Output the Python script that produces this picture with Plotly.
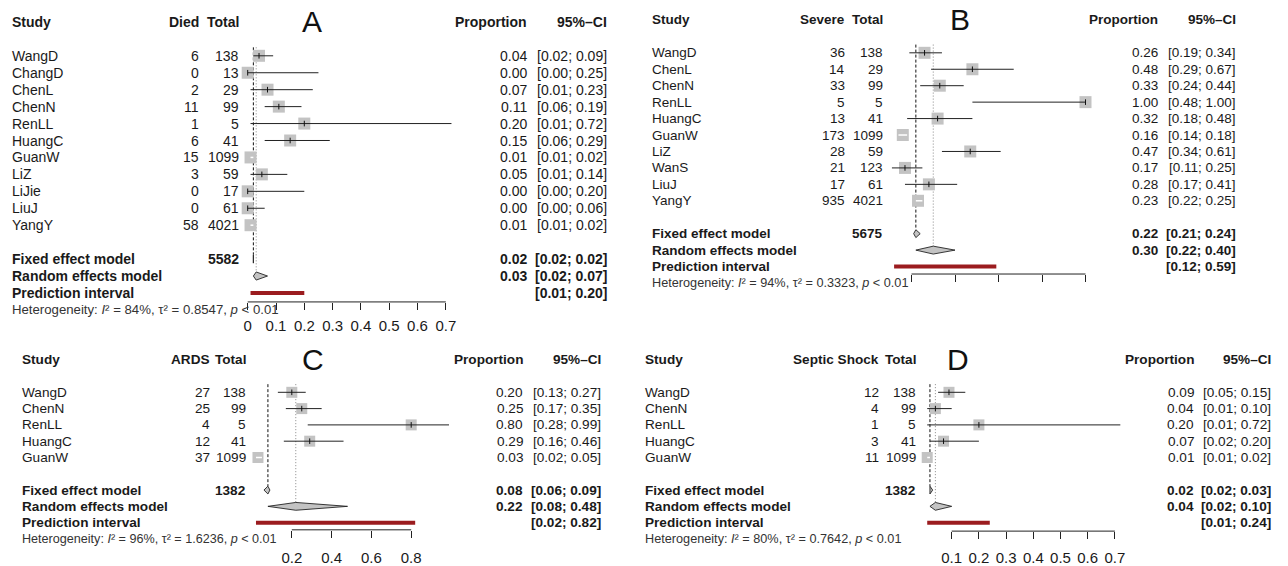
import plotly.graph_objects as go

# ---------------- data ----------------
# A: mortality
A_study = ["WangD", "ChangD", "ChenL", "ChenN", "RenLL", "HuangC", "GuanW", "LiZ", "LiJie", "LiuJ", "YangY"]
A_events = [6, 0, 2, 11, 1, 6, 15, 3, 0, 0, 58]
A_total = [138, 13, 29, 99, 5, 41, 1099, 59, 17, 61, 4021]
A_prop = [0.04, 0.00, 0.07, 0.11, 0.20, 0.15, 0.01, 0.05, 0.00, 0.00, 0.01]
A_lo = [0.02, 0.00, 0.01, 0.06, 0.01, 0.06, 0.01, 0.01, 0.00, 0.00, 0.01]
A_hi = [0.09, 0.25, 0.23, 0.19, 0.72, 0.29, 0.02, 0.14, 0.20, 0.06, 0.02]
A_fixed = [0.02, 0.02, 0.02]
A_random = [0.03, 0.02, 0.07]
A_pred = [0.01, 0.20]
A_n = 5582
A_het = ["84%", "0.8547"]
A_ticks = [0, 0.1, 0.2, 0.3, 0.4, 0.5, 0.6, 0.7]

# B: severe cases
B_study = ["WangD", "ChenL", "ChenN", "RenLL", "HuangC", "GuanW", "LiZ", "WanS", "LiuJ", "YangY"]
B_events = [36, 14, 33, 5, 13, 173, 28, 21, 17, 935]
B_total = [138, 29, 99, 5, 41, 1099, 59, 123, 61, 4021]
B_prop = [0.26, 0.48, 0.33, 1.00, 0.32, 0.16, 0.47, 0.17, 0.28, 0.23]
B_lo = [0.19, 0.29, 0.24, 0.48, 0.18, 0.14, 0.34, 0.11, 0.17, 0.22]
B_hi = [0.34, 0.67, 0.44, 1.00, 0.48, 0.18, 0.61, 0.25, 0.41, 0.25]
B_fixed = [0.22, 0.21, 0.24]
B_random = [0.30, 0.22, 0.40]
B_pred = [0.12, 0.59]
B_n = 5675
B_het = ["94%", "0.3323"]
B_ticks = [0.2, 0.4, 0.6, 0.8, 1.0]

# C: ARDS
C_study = ["WangD", "ChenN", "RenLL", "HuangC", "GuanW"]
C_events = [27, 25, 4, 12, 37]
C_total = [138, 99, 5, 41, 1099]
C_prop = [0.20, 0.25, 0.80, 0.29, 0.03]
C_lo = [0.13, 0.17, 0.28, 0.16, 0.02]
C_hi = [0.27, 0.35, 0.99, 0.46, 0.05]
C_fixed = [0.08, 0.06, 0.09]
C_random = [0.22, 0.08, 0.48]
C_pred = [0.02, 0.82]
C_n = 1382
C_het = ["96%", "1.6236"]
C_ticks = [0.2, 0.4, 0.6, 0.8]

# D: septic shock
D_study = ["WangD", "ChenN", "RenLL", "HuangC", "GuanW"]
D_events = [12, 4, 1, 3, 11]
D_total = [138, 99, 5, 41, 1099]
D_prop = [0.09, 0.04, 0.20, 0.07, 0.01]
D_lo = [0.05, 0.01, 0.01, 0.02, 0.01]
D_hi = [0.15, 0.10, 0.72, 0.20, 0.02]
D_fixed = [0.02, 0.02, 0.03]
D_random = [0.04, 0.02, 0.10]
D_pred = [0.01, 0.24]
D_n = 1382
D_het = ["80%", "0.7642"]
D_ticks = [0.1, 0.2, 0.3, 0.4, 0.5, 0.6, 0.7]

# ---------------- page geometry ----------------
W, H = 1288, 566
FONT = "Liberation Sans, Arial, Helvetica, sans-serif"
TXT = "#1a1a1a"
SQ_COL = "#c3c3c3"
PRED_COL = "#9b1c1f"

fig = go.Figure()
annotations = []
shapes = []
layout_axes = {}


def fx(px):
    return px / W


def fy(py):
    return 1 - py / H


def fmt(v):
    return f"{v:.2f}"


def ci(lo, hi):
    return f"[{lo:.2f}; {hi:.2f}]"


def add_panel(i, letter, evlabel, study, events, total, prop, lo, hi,
              fixed, random, pred, n_fixed, het, ticks, tick_labels, g):
    xa = "x" if i == 1 else f"x{i}"
    ya = "y" if i == 1 else f"y{i}"
    fs = g["fs"]
    sp = g["spacing"]

    k = len(study)
    rows = list(range(2, k + 2))
    r_fixed, r_random, r_pred, r_het = k + 3, k + 4, k + 5, k + 6

    # axes: x in proportion units, y in row units
    x_lo = (g["dom"][0] - g["px0"]) / g["scale"]
    x_hi = (g["dom"][1] - g["px0"]) / g["scale"]
    top_px = g["head"] + 12
    layout_axes["xaxis" if i == 1 else f"xaxis{i}"] = dict(
        domain=[fx(g["dom"][0]), fx(g["dom"][1])], range=[x_lo, x_hi],
        anchor=ya, showgrid=False, zeroline=False, showline=False,
        ticks="outside", ticklen=7, tickwidth=1, tickcolor="#222",
        tickvals=ticks, ticktext=tick_labels, showticklabels=g["labels"],
        ticklabelstandoff=g["standoff"],
        tickfont=dict(family=FONT, size=g["tfs"], color=TXT), fixedrange=True)
    layout_axes["yaxis" if i == 1 else f"yaxis{i}"] = dict(
        domain=[fy(g["axis"]), fy(top_px)],
        range=[(g["axis"] - g["head"]) / sp, (top_px - g["head"]) / sp],
        anchor=xa, visible=False, fixedrange=True)

    common = dict(xaxis=xa, yaxis=ya, hoverinfo="skip", showlegend=False)

    # reference lines at the pooled estimates
    fig.add_trace(go.Scatter(x=[fixed[0], fixed[0]], y=[1.5, r_fixed - 0.25], mode="lines",
                             line=dict(color="#111", width=1, dash="3px,2px"), **common))
    fig.add_trace(go.Scatter(x=[random[0], random[0]], y=[1.5, r_random - 0.25], mode="lines",
                             line=dict(color="#888", width=1, dash="1px,2px"), **common))

    # study squares
    fig.add_trace(go.Scatter(x=prop, y=rows, mode="markers", cliponaxis=False,
                             marker=dict(symbol="square", size=g["sq"], color=SQ_COL,
                                         line=dict(width=0)), **common))

    # confidence intervals (white when hidden inside the square)
    bx, by, wx, wy, cx, cy = [], [], [], [], [], []
    for r, p, l, h in zip(rows, prop, lo, hi):
        if (h - l) * g["scale"] < g["sq"]:
            wx += [l, h, None]
            wy += [r, r, None]
        else:
            bx += [l, h, None]
            by += [r, r, None]
            cx.append(p)
            cy.append(r)
    fig.add_trace(go.Scatter(x=bx, y=by, mode="lines", line=dict(color="#222", width=1), **common))
    fig.add_trace(go.Scatter(x=wx, y=wy, mode="lines", line=dict(color="white", width=1.5), **common))
    fig.add_trace(go.Scatter(x=cx, y=cy, mode="markers", cliponaxis=False,
                             marker=dict(symbol="line-ns", size=4, line=dict(color="#111", width=1)),
                             **common))

    # pooled diamonds
    hh = 0.24
    for (est, l, h), r in ((fixed, r_fixed), (random, r_random)):
        fig.add_trace(go.Scatter(x=[l, est, h, est, l], y=[r, r - hh, r, r + hh, r],
                                 mode="lines", fill="toself", fillcolor=SQ_COL,
                                 line=dict(color="#222", width=0.9), **common))

    # prediction interval
    fig.add_trace(go.Scatter(x=pred, y=[r_pred, r_pred], mode="lines",
                             line=dict(color=PRED_COL, width=4), **common))

    # axis line between the outer ticks
    shapes.append(dict(type="line", xref=xa, yref=f"{ya} domain", x0=ticks[0], x1=ticks[-1],
                       y0=0, y1=0, line=dict(color="#222", width=1)))

    # ---- text columns (rows converted to page position) ----
    def row_y(row):
        return fy(g["head"] + row * sp)

    def text(px, row, s, anchor="left", bold=False, size=None, color=TXT):
        annotations.append(dict(
            x=fx(px), xref="paper", y=row_y(row), yref="paper",
            text=f"<b>{s}</b>" if bold else s,
            xanchor=anchor, yanchor="middle", showarrow=False,
            font=dict(family=FONT, size=size or fs, color=color)))

    c = g["cols"]
    text(c["study"], 0, "Study", bold=True)
    text(c["ev"], 0, evlabel, "right", bold=True)
    text(c["tot"], 0, "Total", "right", bold=True)
    text(c["prop"], 0, "Proportion", "right", bold=True)
    text(c["ci"], 0, "95%\u2013CI", "right", bold=True)
    text(c["letter"], 0, letter, "center", size=30, color="#111")

    for r, s, e, t, p, l, h in zip(rows, study, events, total, prop, lo, hi):
        text(c["study"], r, s)
        text(c["ev"], r, str(e), "right")
        text(c["tot"], r, str(t), "right")
        text(c["prop"], r, fmt(p), "right")
        text(c["ci"], r, ci(l, h), "right")

    text(c["study"], r_fixed, "Fixed effect model", bold=True)
    text(c["tot"], r_fixed, str(n_fixed), "right", bold=True)
    text(c["prop"], r_fixed, fmt(fixed[0]), "right", bold=True)
    text(c["ci"], r_fixed, ci(fixed[1], fixed[2]), "right", bold=True)
    text(c["study"], r_random, "Random effects model", bold=True)
    text(c["prop"], r_random, fmt(random[0]), "right", bold=True)
    text(c["ci"], r_random, ci(random[1], random[2]), "right", bold=True)
    text(c["study"], r_pred, "Prediction interval", bold=True)
    text(c["ci"], r_pred, ci(pred[0], pred[1]), "right", bold=True)
    text(c["study"], r_het,
         f"Heterogeneity: <i>I</i>\u00b2 = {het[0]}, \u03c4\u00b2 = {het[1]}, "
         f"<i>p</i> &lt; 0.01", size=g["hfs"], color="#333")


def labels(ticks):
    return ["0" if t == 0 else f"{t:g}" for t in ticks]


add_panel(1, "A", "Died", A_study, A_events, A_total, A_prop, A_lo, A_hi,
          A_fixed, A_random, A_pred, A_n, A_het, A_ticks, labels(A_ticks),
          dict(px0=247.7, scale=283.0, dom=(236, 462), head=22, spacing=17.0, axis=303,
               sq=12, fs=14, tfs=15, hfs=13.2, labels=True, standoff=3,
               cols=dict(study=10, ev=201, tot=241, prop=529, ci=609, letter=312)))

add_panel(2, "B", "Severe", B_study, B_events, B_total, B_prop, B_lo, B_hi,
          B_fixed, B_random, B_pred, B_n, B_het, B_ticks, labels(B_ticks),
          dict(px0=868.0, scale=217.5, dom=(884, 1098), head=20, spacing=16.5, axis=275,
               sq=12, fs=13.5, tfs=15, hfs=12.7, labels=False, standoff=3,
               cols=dict(study=650, ev=847, tot=885, prop=1160, ci=1238, letter=960)))

add_panel(3, "C", "ARDS", C_study, C_events, C_total, C_prop, C_lo, C_hi,
          C_fixed, C_random, C_pred, C_n, C_het, C_ticks, labels(C_ticks),
          dict(px0=252.0, scale=199.0, dom=(245, 455), head=361, spacing=16.35, axis=531.7,
               sq=11, fs=13.6, tfs=15, hfs=12.6, labels=True, standoff=7,
               cols=dict(study=20, ev=212, tot=248, prop=525, ci=603, letter=313)))

add_panel(4, "D", "Septic Shock", D_study, D_events, D_total, D_prop, D_lo, D_hi,
          D_fixed, D_random, D_pred, D_n, D_het, D_ticks, labels(D_ticks),
          dict(px0=924.5, scale=272.0, dom=(915, 1125), head=361, spacing=16.35, axis=533,
               sq=11, fs=13.6, tfs=15, hfs=12.7, labels=True, standoff=6,
               cols=dict(study=643, ev=881, tot=918, prop=1196, ci=1273, letter=958)))

fig.update_layout(
    width=W, height=H, autosize=False,
    margin=dict(l=0, r=0, t=0, b=0, pad=0),
    paper_bgcolor="white", plot_bgcolor="white",
    showlegend=False, hovermode=False,
    annotations=annotations, shapes=shapes,
    **layout_axes,
)

fig.write_html("out.html", config={"displayModeBar": False})
